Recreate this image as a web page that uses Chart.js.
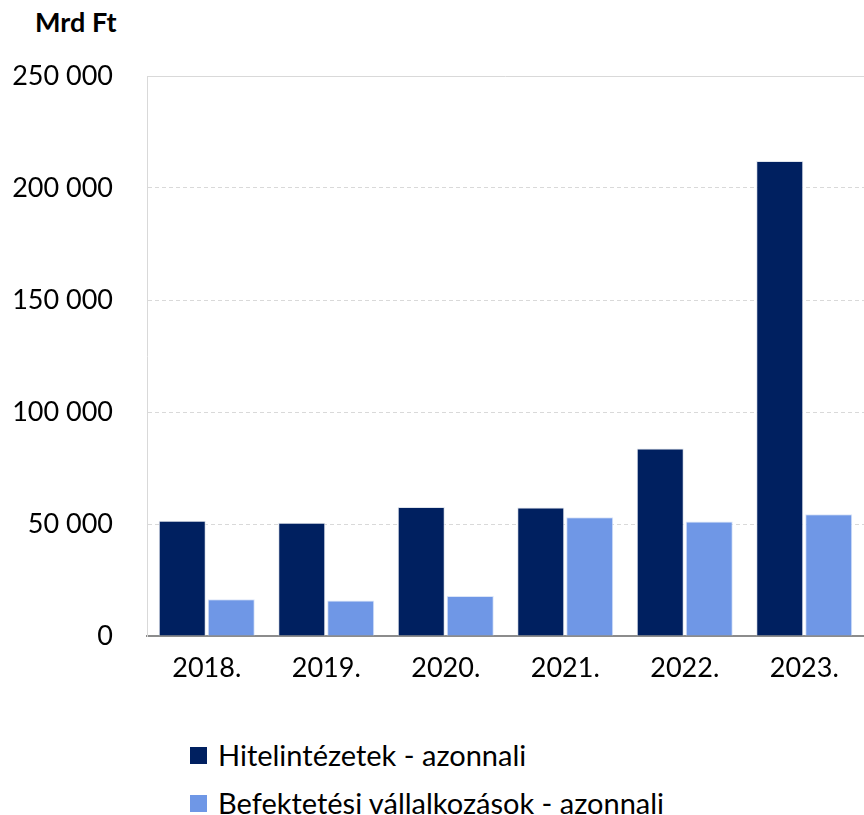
<!DOCTYPE html>
<html>
<head>
<meta charset="utf-8">
<script src="https://cdn.jsdelivr.net/npm/chart.js@4/dist/chart.umd.min.js"></script>
<style>
body { margin: 0; background: #fff; font-family: Lato, "Open Sans", sans-serif; overflow: hidden; }
#wrap { position: relative; width: 864px; height: 815px; }
#box { position: absolute; left: 0; top: 0; width: 864px; height: 715px; }
#unit { position: absolute; left: 35px; top: 5px; font-size: 27px; font-weight: bold; color: #000; }
#legend { position: absolute; left: 190px; top: 731px; font-size: 29px; color: #000; }
#legend div { height: 48px; line-height: 48px; display: flex; align-items: center; white-space: nowrap; }
#legend span.sw { display: inline-block; width: 17px; height: 17px; margin-right: 11px; }
</style>
</head>
<body>
<div id="wrap">
  <div id="unit">Mrd Ft</div>
  <div id="box"><canvas id="c"></canvas></div>
  <div id="legend"></div>
</div>
<script>
/* data */
const years = ["2018.", "2019.", "2020.", "2021.", "2022.", "2023."];
const hitelintezetek = [51500, 50600, 57600, 57400, 83700, 212100];
const befektetesi = [16400, 15900, 17900, 53000, 51100, 54300];
const seriesNames = ["Hitelintézetek - azonnali", "Befektetési vállalkozások - azonnali"];
const seriesColors = ["#002060", "#6f97e6"];
const yTicks = [0, 50000, 100000, 150000, 200000, 250000];

/* solid top border of the plot */
const topLine = {
  id: "topLine",
  afterDraw(chart) {
    const a = chart.chartArea, ctx = chart.ctx;
    ctx.save();
    ctx.strokeStyle = "#d9d9d9";
    ctx.lineWidth = 1;
    ctx.beginPath();
    ctx.moveTo(a.left, a.top + 0.5);
    ctx.lineTo(a.right, a.top + 0.5);
    ctx.stroke();
    ctx.restore();
  }
};

const fmt = v => String(v).replace(/\B(?=(\d{3})+(?!\d))/g, " ");

const chart = new Chart(document.getElementById("c"), {
  type: "bar",
  data: {
    labels: years,
    datasets: [
      { label: seriesNames[0], data: hitelintezetek, backgroundColor: seriesColors[0], borderColor: "#dfe4ec", borderWidth: 1 },
      { label: seriesNames[1], data: befektetesi, backgroundColor: seriesColors[1], borderColor: "#dbe5f8", borderWidth: 1 }
    ]
  },
  options: {
    responsive: true,
    maintainAspectRatio: false,
    animation: false,
    layout: { padding: { top: 76, right: 0, left: 0, bottom: 0 } },
    datasets: { bar: { categoryPercentage: 0.82, barPercentage: 0.96 } },
    plugins: { legend: { display: false }, tooltip: { enabled: false } },
    scales: {
      x: {
        grid: { display: false, drawTicks: false },
        border: { color: "#8c8c8c", width: 2 },
        ticks: { color: "#000", font: { family: "Lato", size: 27 }, padding: 16, maxRotation: 0 },
        afterFit(s) { s.height = 79; }
      },
      y: {
        min: 0, max: 250000,
        afterBuildTicks(s) { s.ticks = yTicks.map(v => ({ value: v })); },
        grid: {
          drawTicks: false,
          color: ctx => (ctx.tick && (ctx.tick.value === 0 || ctx.tick.value === 250000)) ? "rgba(0,0,0,0)" : "#d9d9d9"
        },
        border: { color: "#d9d9d9", width: 1, dash: [4, 3] },
        ticks: { color: "#000", font: { family: "Lato", size: 27 }, padding: 34, callback: v => fmt(v) },
        afterFit(s) { s.width = 147; }
      }
    }
  },
  plugins: [topLine]
});

/* legend below the chart */
const lg = document.getElementById("legend");
chart.data.datasets.forEach(d => {
  const row = document.createElement("div");
  const sw = document.createElement("span");
  sw.className = "sw";
  sw.style.background = d.backgroundColor;
  row.appendChild(sw);
  row.appendChild(document.createTextNode(d.label));
  lg.appendChild(row);
});
</script>
</body>
</html>
